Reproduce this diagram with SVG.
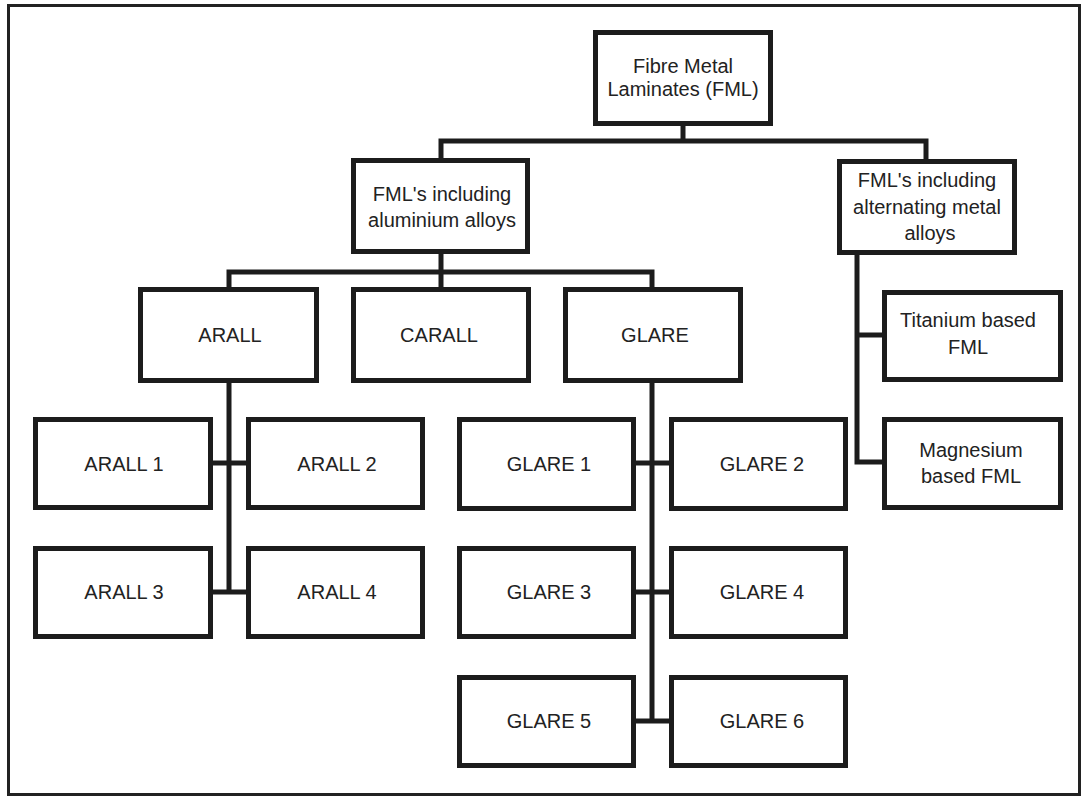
<svg xmlns="http://www.w3.org/2000/svg" width="1083" height="796" viewBox="0 0 1083 796">
<style>
.box{fill:#fff;stroke:#1c1c1c;stroke-width:5}
.lbl{font-family:"Liberation Sans",Arial,sans-serif;font-size:20px;fill:#222;text-anchor:middle}
.con{fill:none;stroke:#1c1c1c;stroke-width:5;stroke-linecap:square}
</style>
<rect x="0" y="0" width="1083" height="796" fill="#fff"/>
<rect x="8.5" y="5.5" width="1071" height="789" fill="none" stroke="#222" stroke-width="3"/>
<g id="connectors" class="con">
<path d="M683 126V141M441 141H926M441 141V158M926 141V159"/>
<path d="M441 254V287M229 272H652M229 272V287M652 272V287"/>
<path d="M229 383V592M213 463H246M213 592H246"/>
<path d="M652 383V721M636 463H669M636 592H669M636 721H669"/>
<path d="M857 255V462M857 335H882M857 462H882"/>
</g>
<g id="fml"><rect class="box" x="595.5" y="32.5" width="175" height="91"/><text class="lbl" x="683" y="73">Fibre Metal</text><text class="lbl" x="683" y="96">Laminates (FML)</text></g>
<g id="fml-al"><rect class="box" x="353.5" y="160.5" width="174" height="91"/><text class="lbl" x="442" y="201">FML's including</text><text class="lbl" x="442" y="227">aluminium alloys</text></g>
<g id="fml-alt"><rect class="box" x="839.5" y="161.5" width="175" height="91"/><text class="lbl" x="927" y="187">FML's including</text><text class="lbl" x="927" y="214">alternating metal</text><text class="lbl" x="930" y="240">alloys</text></g>
<g id="arall"><rect class="box" x="140.5" y="289.5" width="176" height="91"/><text class="lbl" x="230" y="342">ARALL</text></g>
<g id="carall"><rect class="box" x="353.5" y="289.5" width="175" height="91"/><text class="lbl" x="439" y="342">CARALL</text></g>
<g id="glare"><rect class="box" x="565.5" y="289.5" width="175" height="91"/><text class="lbl" x="655" y="342">GLARE</text></g>
<g id="titanium"><rect class="box" x="884.5" y="292.5" width="176" height="87"/><text class="lbl" x="968" y="327">Titanium based</text><text class="lbl" x="968" y="354">FML</text></g>
<g id="magnesium"><rect class="box" x="884.5" y="419.5" width="176" height="88"/><text class="lbl" x="971" y="457">Magnesium</text><text class="lbl" x="971" y="483">based FML</text></g>
<g id="arall1"><rect class="box" x="35.5" y="419.5" width="175" height="88"/><text class="lbl" x="124" y="471">ARALL 1</text></g>
<g id="arall2"><rect class="box" x="248.5" y="419.5" width="174" height="88"/><text class="lbl" x="337" y="471">ARALL 2</text></g>
<g id="arall3"><rect class="box" x="35.5" y="548.5" width="175" height="88"/><text class="lbl" x="124" y="599">ARALL 3</text></g>
<g id="arall4"><rect class="box" x="248.5" y="548.5" width="174" height="88"/><text class="lbl" x="337" y="599">ARALL 4</text></g>
<g id="glare1"><rect class="box" x="459.5" y="419.5" width="174" height="89"/><text class="lbl" x="549" y="471">GLARE 1</text></g>
<g id="glare2"><rect class="box" x="671.5" y="419.5" width="174" height="89"/><text class="lbl" x="762" y="471">GLARE 2</text></g>
<g id="glare3"><rect class="box" x="459.5" y="548.5" width="174" height="88"/><text class="lbl" x="549" y="599">GLARE 3</text></g>
<g id="glare4"><rect class="box" x="671.5" y="548.5" width="174" height="88"/><text class="lbl" x="762" y="599">GLARE 4</text></g>
<g id="glare5"><rect class="box" x="459.5" y="677.5" width="174" height="88"/><text class="lbl" x="549" y="728">GLARE 5</text></g>
<g id="glare6"><rect class="box" x="671.5" y="677.5" width="174" height="88"/><text class="lbl" x="762" y="728">GLARE 6</text></g>
</svg>
